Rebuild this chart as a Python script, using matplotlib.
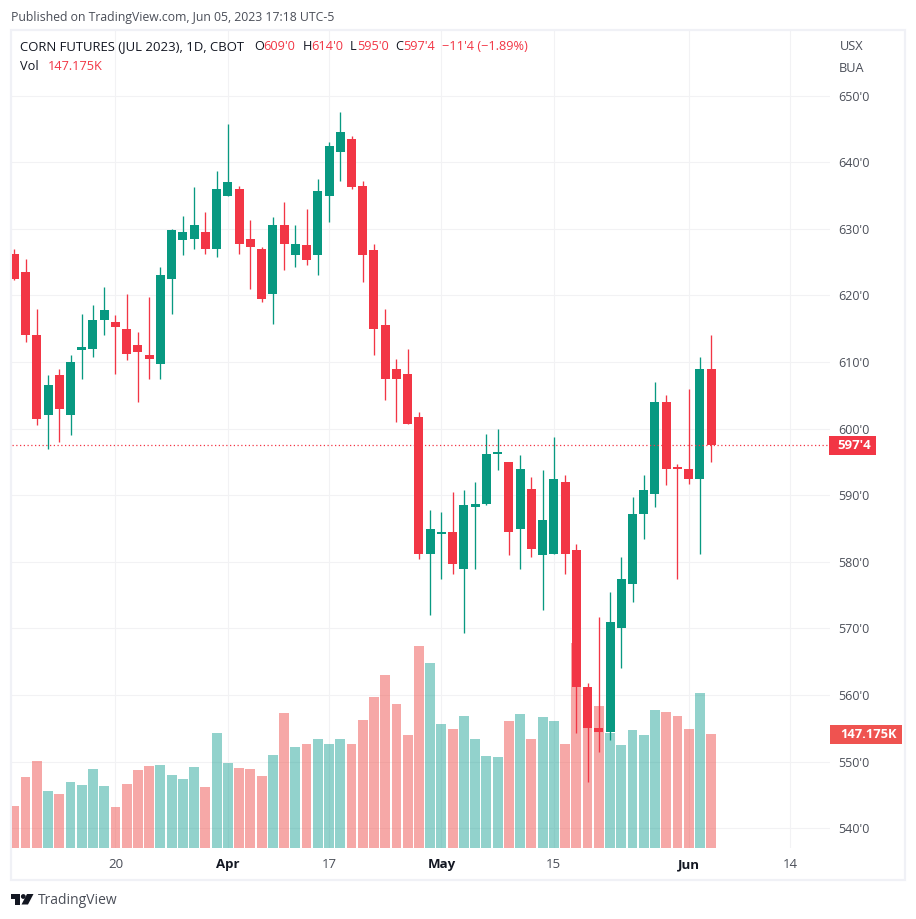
import numpy as np
import matplotlib
matplotlib.use('Agg')
import matplotlib.pyplot as plt
from matplotlib.patches import Rectangle, Polygon, Circle

plt.rcParams['font.family'] = ['Open Sans', 'DejaVu Sans']

# --- data ---
opens = [626.25, 623.5, 614.0, 602.0, 608.0, 602.0, 611.75, 612.0, 616.25, 616.0, 615.0, 612.5, 611.0, 609.75,
         622.5, 628.25, 628.5, 629.5, 627.0, 635.0, 636.0, 628.5, 627.0, 620.25, 630.5, 626.0, 627.5, 626.0,
         635.0, 641.5, 643.5, 636.5, 626.75, 615.5, 609.0, 608.25, 601.75, 581.25, 584.25, 584.5, 579.0, 588.25,
         588.75, 596.25, 595.0, 585.0, 591.0, 581.0, 581.25, 592.0, 581.75, 561.25, 555.0, 554.5, 570.0, 576.75,
         587.25, 590.25, 604.0, 594.25, 594.0, 592.5, 609.0]
highs = [627.0, 625.5, 618.0, 608.0, 609.0, 611.0, 617.25, 618.5, 621.25, 617.0, 620.25, 614.5, 619.75, 624.25,
         630.0, 632.0, 636.25, 632.5, 638.75, 645.75, 636.5, 631.25, 627.25, 631.75, 634.0, 630.5, 633.0, 637.5,
         643.0, 647.5, 644.0, 637.25, 627.75, 618.0, 610.5, 612.0, 602.5, 587.75, 587.5, 590.5, 590.75, 592.0,
         599.25, 600.0, 595.0, 596.0, 592.75, 593.75, 598.75, 593.0, 582.75, 561.75, 571.75, 575.5, 580.75, 589.75,
         593.0, 607.0, 605.0, 594.75, 606.0, 610.75, 614.0]
lows = [622.25, 613.0, 600.5, 597.0, 598.0, 599.0, 607.5, 610.75, 614.0, 608.25, 610.25, 604.0, 607.5, 607.5,
        617.25, 626.0, 627.0, 626.25, 625.75, 635.0, 626.25, 621.0, 619.0, 615.75, 623.75, 624.25, 624.5, 623.0,
        631.0, 637.25, 636.0, 622.0, 611.0, 604.25, 601.0, 600.75, 580.5, 572.0, 577.5, 578.25, 569.25, 579.0,
        588.5, 593.75, 581.0, 579.0, 580.75, 572.75, 581.25, 578.25, 554.25, 547.0, 551.5, 553.25, 564.0, 574.0,
        583.5, 588.25, 591.5, 577.5, 591.75, 581.25, 595.0]
closes = [622.5, 614.0, 601.5, 606.5, 603.0, 610.0, 612.25, 616.25, 617.75, 615.25, 611.25, 611.5, 610.5, 623.0,
          629.75, 629.5, 630.5, 627.0, 636.0, 637.0, 627.75, 627.25, 619.5, 630.5, 627.75, 627.75, 625.25, 635.75,
          642.5, 644.5, 636.25, 626.0, 615.0, 607.5, 607.5, 600.75, 581.25, 585.0, 584.5, 579.75, 588.5, 588.75,
          596.25, 596.5, 584.5, 594.0, 582.0, 586.25, 592.5, 581.25, 561.25, 555.0, 554.5, 571.0, 577.5, 587.25,
          590.75, 604.0, 594.0, 594.0, 592.5, 609.0, 597.5]
volumes = [54.2, 91.7, 112.3, 73.6, 69.7, 85.2, 81.3, 102.0, 80.0, 52.9, 82.6, 100.7, 105.9, 107.1, 94.2, 89.1,
           104.6, 78.7, 148.5, 109.7, 103.3, 102.0, 92.9, 120.1, 174.3, 130.4, 134.3, 140.7, 134.3, 140.7, 134.3,
           165.2, 194.9, 223.3, 185.9, 145.9, 260.8, 238.8, 160.1, 153.6, 170.4, 140.7, 118.8, 117.5, 163.9, 173.0,
           140.7, 169.1, 163.9, 134.3, 264.6, 180.7, 183.3, 148.5, 133.0, 152.3, 145.9, 178.1, 175.6, 170.4, 153.6,
           200.1, 147.175]

price_ticks = [540, 550, 560, 570, 580, 590, 600, 610, 620, 630, 640, 650]
price_labels = ["540'0", "550'0", "560'0", "570'0", "580'0", "590'0", "600'0", "610'0", "620'0", "630'0", "640'0", "650'0"]
date_ticks = [9, 19, 28, 38, 48, 60, 69]
date_labels = ['20', 'Apr', '17', 'May', '15', 'Jun', '14']
bold_dates = ['Apr', 'May', 'Jun']

W, H = 916, 919
GREEN = '#089981'
RED = '#f23645'
VOL_GREEN = '#26a69a'
VOL_RED = '#ef5350'
GRID = '#f2f2f4'
FRAME = '#f0f1f6'
TEXT = '#131722'
LABEL = '#4a4e58'

fig = plt.figure(figsize=(W / 100, H / 100), dpi=100, facecolor='white')


def px(x, y):
    return x / W, 1 - y / H


# plot pane is x 12..830, y 31..848 in pixels
pos = [12 / W, 1 - 848 / H, (830 - 12) / W, (848 - 31) / H]

ax = fig.add_axes(pos)
ax.set_xlim(-0.2046, 72.57)
ax.set_ylim(537.04, 659.7)
ax.yaxis.tick_right()
ax.set_yticks(price_ticks)
ax.set_yticklabels(price_labels, fontsize=9, color=LABEL)
ax.set_xticks(date_ticks)
ax.set_xticklabels(date_labels, fontsize=9.5, color=LABEL)
for lab in ax.get_xticklabels():
    if lab.get_text() in bold_dates:
        lab.set_fontweight('bold')
        lab.set_color(TEXT)
ax.tick_params(axis='y', length=0, pad=6)
ax.tick_params(axis='x', length=0, pad=7.5)
ax.grid(True, color=GRID, linewidth=0.8)
ax.set_axisbelow(True)
for s in ax.spines.values():
    s.set_visible(False)

x = np.arange(len(opens))

# volume sits on its own scale under the candles
ax_vol = fig.add_axes(pos, sharex=ax, zorder=1)
ax_vol.set_ylim(0, 1054.7)
ax_vol.set_axis_off()
vol_colors = [VOL_GREEN if c >= o else VOL_RED for o, c in zip(opens, closes)]
ax_vol.bar(x, volumes, width=0.88, color=vol_colors, alpha=0.5, linewidth=0)

ax_c = fig.add_axes(pos, sharex=ax, sharey=ax, zorder=2)
ax_c.set_axis_off()
candle_colors = [GREEN if c >= o else RED for o, c in zip(opens, closes)]
ax_c.vlines(x, lows, highs, colors=candle_colors, linewidth=0.95)
bottoms = np.minimum(opens, closes)
heights = np.maximum(np.abs(np.array(closes) - np.array(opens)), 0.25)
ax_c.bar(x, heights, bottom=bottoms, width=0.8, color=candle_colors, linewidth=0)

# last price dotted line
ax_c.axhline(closes[-1], color=RED, linewidth=0.9, linestyle=(0, (1, 2)))

# outer frame
fig.add_artist(Rectangle(px(11, 880), 894 / W, 850 / H, transform=fig.transFigure,
                         fill=False, edgecolor=FRAME, linewidth=1.6))

fig.text(*px(11, 17), 'Published on TradingView.com, Jun 05, 2023 17:18 UTC-5', fontsize=8.8, color=LABEL, va='center')

fig.text(*px(20, 47), 'CORN FUTURES (JUL 2023), 1D, CBOT', fontsize=9.45, color=TEXT, va='center')
header_parts = [(254, 'O', TEXT), (263.5, "609'0", RED), (302.5, 'H', TEXT), (311, "614'0", RED),
                (350, 'L', TEXT), (357, "595'0", RED), (395, 'C', TEXT), (403.5, "597'4", RED),
                (442, "\u221211'4 (\u22121.89%)", RED)]
for xp, s, c in header_parts:
    fig.text(*px(xp, 47), s, fontsize=9.2, color=c, va='center')
fig.text(*px(20, 66.5), 'Vol', fontsize=9.2, color=TEXT, va='center')
fig.text(*px(47.5, 66.5), '147.175K', fontsize=9.2, color=RED, va='center')

fig.text(*px(852, 46), 'USX', fontsize=9.2, color=LABEL, va='center', ha='center')
fig.text(*px(852, 68), 'BUA', fontsize=9.2, color=LABEL, va='center', ha='center')

# price / volume tags on the scale
fig.add_artist(Rectangle(px(829, 455), 46.5 / W, 19.5 / H, transform=fig.transFigure, color=RED, linewidth=0))
fig.text(*px(854.5, 445.5), "597'4", fontsize=9.5, color='white', va='center', ha='center', fontweight='bold')
fig.add_artist(Rectangle(px(830, 744), 72 / W, 19 / H, transform=fig.transFigure, color=VOL_RED, linewidth=0))
fig.text(*px(869, 735), '147.175K', fontsize=9.3, color='white', va='center', ha='center', fontweight='bold')

# TradingView logo
logo = '#131722'
fig.add_artist(Polygon([px(11, 894), px(20, 894), px(20, 904.5), px(15, 904.5), px(15, 898.5), px(11, 898.5)],
                       transform=fig.transFigure, color=logo, linewidth=0))
fig.add_artist(Circle(px(23.3, 896.5), 2.4 / W, transform=fig.transFigure, color=logo, linewidth=0))
fig.add_artist(Polygon([px(27, 894), px(33.5, 894), px(28, 904.5), px(21.5, 904.5)],
                       transform=fig.transFigure, color=logo, linewidth=0))
fig.text(*px(38, 900), 'TradingView', fontsize=10, color=LABEL, va='center')

fig.savefig('out.png', dpi=100)
